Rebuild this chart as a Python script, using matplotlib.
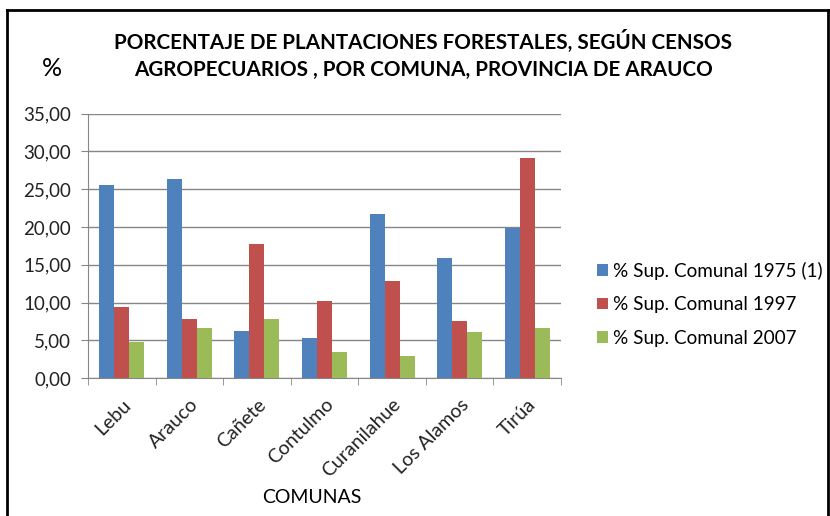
import numpy as np
import matplotlib.pyplot as plt
from matplotlib.lines import Line2D
from matplotlib.ticker import FuncFormatter, FixedLocator
from matplotlib.transforms import ScaledTranslation

plt.rcParams['font.family'] = ['Lato', 'DejaVu Sans']

# Data
comunas = ['Lebu', 'Arauco', 'Cañete', 'Contulmo', 'Curanilahue', 'Los Alamos', 'Tirúa']
sup_1975 = [25.5, 26.3, 6.2, 5.3, 21.7, 15.9, 19.9]
sup_1997 = [9.4, 7.8, 17.8, 10.2, 12.9, 7.6, 29.1]
sup_2007 = [4.8, 6.6, 7.8, 3.5, 2.9, 6.1, 6.7]
series_names = ['% Sup. Comunal 1975 (1)', '% Sup. Comunal 1997', '% Sup. Comunal 2007']
colors = ['#4F81BD', '#C0504D', '#9BBB59']

fig = plt.figure(figsize=(8.3, 5.16), dpi=100)
ax = fig.add_axes([0.106, 0.267, 0.57, 0.513])

x = np.arange(len(comunas))
w = 1 / 4.5
for i, (vals, name, c) in enumerate(zip([sup_1975, sup_1997, sup_2007], series_names, colors)):
    ax.bar(x + (i - 1) * w, vals, width=w, color=c, label=name, zorder=3)

ax.set_xlim(-0.5, len(comunas) - 0.5)
ax.set_ylim(0, 35)
ax.set_yticks(np.arange(0, 36, 5))
ax.yaxis.set_major_formatter(FuncFormatter(lambda v, p: f'{v:.2f}'.replace('.', ',')))
ax.grid(axis='y', color='#868686', linewidth=1, zorder=0)

# category labels at centres, tick marks at boundaries
ax.set_xticks(x)
ax.set_xticklabels(comunas, rotation=45, ha='right', va='center', rotation_mode='anchor', fontsize=14, color='#222222')
ax.tick_params(axis='x', length=0, pad=17)
shift = ScaledTranslation(6 / 100, 0, fig.dpi_scale_trans)
for lbl in ax.get_xticklabels():
    lbl.set_transform(lbl.get_transform() + shift)
ax.xaxis.set_minor_locator(FixedLocator(np.arange(-0.5, len(comunas), 1)))
ax.tick_params(axis='x', which='minor', length=5, color='#868686', direction='out')
ax.tick_params(axis='y', length=5, color='#868686', labelsize=13.5, labelcolor='#222222', pad=7)

for s in ['top', 'right']:
    ax.spines[s].set_visible(False)
for s in ['left', 'bottom']:
    ax.spines[s].set_color('#868686')

ax.legend(loc='center left', bbox_to_anchor=(1.04, 0.28), frameon=False, fontsize=13.6,
          handlelength=0.57, handleheight=0.57, handletextpad=0.3, labelspacing=0.88)

fig.text(0.51, 0.92, 'PORCENTAJE DE PLANTACIONES FORESTALES, SEGÚN CENSOS', ha='center', va='center',
         fontsize=14.9, fontweight='bold')
fig.text(0.51, 0.864, 'AGROPECUARIOS , POR COMUNA, PROVINCIA DE ARAUCO', ha='center', va='center',
         fontsize=14.9, fontweight='bold')
fig.text(0.062, 0.868, '%', ha='center', va='center', fontsize=18)
fig.text(0.376, 0.036, 'COMUNAS', ha='center', va='center', fontsize=14)

# outer frame
fig.add_artist(Line2D([0.008, 0.008], [0, 0.981], color='black', linewidth=2, transform=fig.transFigure))
fig.add_artist(Line2D([0.008, 0.998], [0.981, 0.981], color='black', linewidth=2, transform=fig.transFigure))
fig.add_artist(Line2D([0.998, 0.998], [0, 0.981], color='black', linewidth=2, transform=fig.transFigure))

plt.savefig('out.png')
